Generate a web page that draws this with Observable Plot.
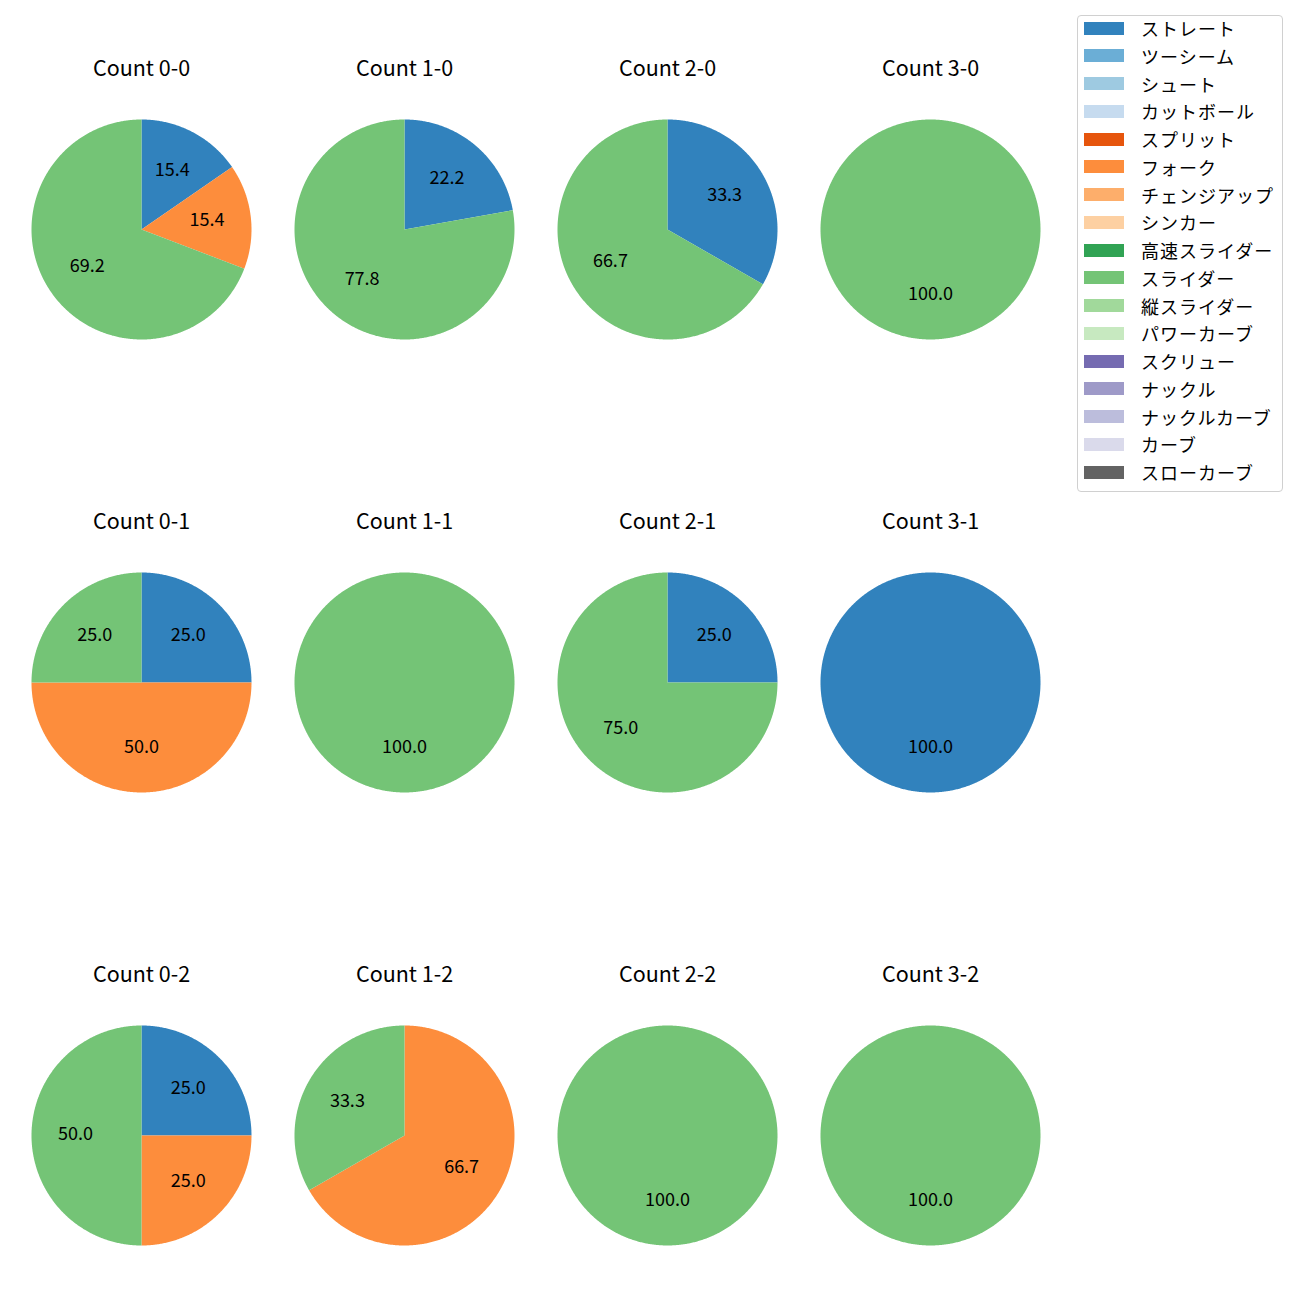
<!DOCTYPE html>
<html>
<head>
<meta charset="utf-8">
<script src="https://cdn.jsdelivr.net/npm/d3@7"></script>
<script src="https://cdn.jsdelivr.net/npm/@observablehq/plot@0.6"></script>
<style>
  body { margin: 0; background: #fff; font-family: "Noto Sans CJK JP", "Noto Sans", sans-serif; }
  #wrap { position: relative; width: 1300px; height: 1300px; }
  #legend { position: absolute; left: 1077px; top: 15px; width: 206px; height: 477px;
    border: 1px solid #d0d0d0; border-radius: 4px; box-sizing: border-box; background: #fff; }
  .item { position: absolute; left: 6px; height: 20px; display: flex; align-items: center; }
  .sw { width: 40px; height: 13px; margin-right: 17px; }
  .lab { font-size: 18px; color: #000; white-space: nowrap; letter-spacing: 1px; }
</style>
</head>
<body>
<div id="wrap"><div id="chart"></div><div id="legend"></div></div>
<script>
// Pitch types (legend order) and colours
const pitchTypes = ["ストレート","ツーシーム","シュート","カットボール","スプリット","フォーク","チェンジアップ","シンカー","高速スライダー","スライダー","縦スライダー","パワーカーブ","スクリュー","ナックル","ナックルカーブ","カーブ","スローカーブ"];
const pitchColors = ["#3182bd","#6baed6","#9ecae1","#c6dbef","#e6550d","#fd8d3c","#fdae6b","#fdd0a2","#31a354","#74c476","#a1d99b","#c7e9c0","#756bb1","#9e9ac8","#bcbddc","#dadaeb","#636363"];

// Counts (balls-strikes) and percentages per pitch type
const countLabels = ["0-0","1-0","2-0","3-0","0-1","1-1","2-1","3-1","0-2","1-2","2-2","3-2"];
const straight = [15.4, 22.2, 33.3, 0, 25.0, 0, 25.0, 100.0, 25.0, 0, 0, 0];
const fork     = [15.4, 0, 0, 0, 50.0, 0, 0, 0, 25.0, 66.7, 0, 0];
const slider   = [69.2, 77.8, 66.7, 100.0, 25.0, 100.0, 75.0, 0, 50.0, 33.3, 100.0, 100.0];

const series = [["ストレート", straight], ["フォーク", fork], ["スライダー", slider]];

// Build slice polygons & labels via d3.pie (clockwise from 12 o'clock)
const slicePts = [], labels = [], titles = [];
countLabels.forEach((c, i) => {
  const [b, s] = c.split("-").map(Number);
  const rows = series.map(([p, v]) => ({pitch: p, value: v[i]})).filter(d => d.value > 0);
  const total = d3.sum(rows, d => d.value);
  const arcs = d3.pie().sort(null).value(d => d.value)(rows);
  titles.push({b, s, text: "Count " + c});
  arcs.forEach((a, k) => {
    const key = c + "|" + k;
    const full = a.endAngle - a.startAngle >= 2 * Math.PI - 1e-9;
    if (!full) slicePts.push({b, s, key, pitch: a.data.pitch, x: 0, y: 0});
    const n = Math.max(2, Math.ceil((a.endAngle - a.startAngle) / (Math.PI / 360)));
    for (let j = 0; j <= n; j++) {
      const t = a.startAngle + (a.endAngle - a.startAngle) * j / n;
      slicePts.push({b, s, key, pitch: a.data.pitch, x: Math.sin(t), y: Math.cos(t)});
    }
    const m = (a.startAngle + a.endAngle) / 2;
    labels.push({b, s, x: 0.6 * Math.sin(m), y: 0.6 * Math.cos(m), text: (a.data.value / total * 100).toFixed(1)});
  });
});

const R = 110;        // pie radius in px
const cell = 263;     // facet cell size
const W = (cell / 2) / R;

const chart = Plot.plot({
  width: 1300,
  height: 1300,
  marginLeft: 9.5,
  marginRight: 1300 - 9.5 - 4 * cell,
  marginTop: 97.5,
  marginBottom: 1300 - 97.5 - (2 * 453 + cell),
  x: {domain: [-W, W], axis: null},
  y: {domain: [-W, W], axis: null},
  fx: {domain: [0, 1, 2, 3], axis: null, paddingInner: 0, paddingOuter: 0, round: false},
  fy: {domain: [0, 1, 2], axis: null, paddingInner: (453 - cell) / 453, paddingOuter: 0, round: false},
  color: {type: "ordinal", domain: pitchTypes, range: pitchColors},
  style: {fontFamily: "'Noto Sans CJK JP', 'Noto Sans', sans-serif", background: "#fff"},
  marks: [
    Plot.line(slicePts, {x: "x", y: "y", z: "key", fx: "b", fy: "s", fill: "pitch", stroke: "none", curve: "linear"}),
    Plot.text(labels, {x: "x", y: "y", fx: "b", fy: "s", text: "text", fontSize: 18, dy: -1, fill: "#000"}),
    Plot.text(titles, {fx: "b", fy: "s", text: "text", frameAnchor: "top", dy: -28.5, lineAnchor: "middle", fontSize: 21.5, fill: "#000"})
  ]
});
document.getElementById("chart").appendChild(chart);

// Legend
const lg = document.getElementById("legend");
pitchTypes.forEach((p, i) => {
  const it = document.createElement("div");
  it.className = "item";
  it.style.top = (29 - 15 - 12 + i * 27.75) + "px";
  const sw = document.createElement("div");
  sw.className = "sw";
  sw.style.background = pitchColors[i];
  const lb = document.createElement("span");
  lb.className = "lab";
  lb.textContent = p;
  it.appendChild(sw); it.appendChild(lb);
  lg.appendChild(it);
});
</script>
</body>
</html>
